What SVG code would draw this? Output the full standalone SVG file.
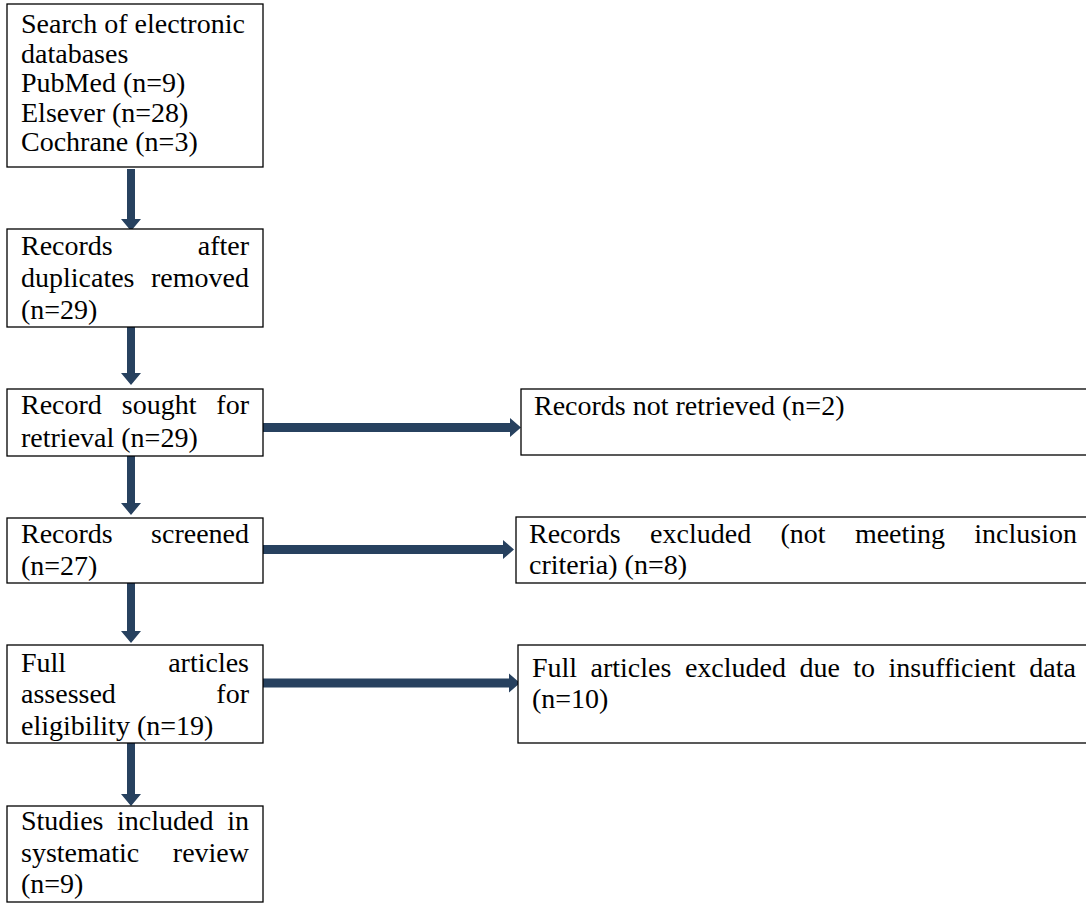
<svg xmlns="http://www.w3.org/2000/svg" width="1086" height="903" viewBox="0 0 1086 903">
<style>
.box{fill:#fff;stroke:#000;stroke-width:1.3}
.t{font-family:"Liberation Serif","Times New Roman",serif;font-size:28px;fill:#000}
.e{text-anchor:end}
.arr{fill:#27415f}
</style>
<rect width="1086" height="903" fill="#fff"/>
<g id="connectors">
<polygon class="arr" points="127,169 135,169 135,219 141,219 131,231 121,219 127,219"/>
<polygon class="arr" points="127,322 135,322 135,373 141,373 131,385 121,373 127,373"/>
<polygon class="arr" points="127,451 135,451 135,503 141,503 131,515 121,503 127,503"/>
<polygon class="arr" points="127,578 135,578 135,631 141,631 131,643 121,631 127,631"/>
<polygon class="arr" points="127,738 135,738 135,794 141,794 131,806 121,794 127,794"/>
<polygon class="arr" points="262,423 510,423 510,418 521,427.5 510,437 510,432 262,432"/>
<polygon class="arr" points="262,545 503,545 503,540 514,549.5 503,559 503,554 262,554"/>
<polygon class="arr" points="262,678.5 509,678.5 509,673.5 520,683 509,692.5 509,687.5 262,687.5"/>
</g>
<g id="n1">
<rect class="box" x="7" y="4" width="256" height="163"/>
<text class="t" x="21" y="33">Search of electronic</text>
<text class="t" x="21" y="62.5">databases</text>
<text class="t" x="21" y="92">PubMed (n=9)</text>
<text class="t" x="21" y="121.5">Elsever (n=28)</text>
<text class="t" x="21" y="151">Cochrane (n=3)</text>
</g>
<g id="n2">
<rect class="box" x="7" y="229" width="256" height="98"/>
<text class="t" x="21" y="255">Records</text>
<text class="t e" x="249" y="255">after</text>
<text class="t" x="21" y="287.3">duplicates</text>
<text class="t e" x="249" y="287.3">removed</text>
<text class="t" x="21" y="319.3">(n=29)</text>
</g>
<g id="n3">
<rect class="box" x="7" y="389" width="256" height="67"/>
<text class="t" x="21" y="414.3">Record</text>
<text class="t" x="121.8" y="414.3">sought</text>
<text class="t e" x="249" y="414.3">for</text>
<text class="t" x="21" y="446.7">retrieval (n=29)</text>
</g>
<g id="n4">
<rect class="box" x="7" y="518" width="256" height="65"/>
<text class="t" x="21" y="543.3">Records</text>
<text class="t e" x="249" y="543.3">screened</text>
<text class="t" x="21" y="575">(n=27)</text>
</g>
<g id="n5">
<rect class="box" x="7" y="645" width="256" height="98"/>
<text class="t" x="21" y="671.7">Full</text>
<text class="t e" x="249" y="671.7">articles</text>
<text class="t" x="21" y="703.3">assessed</text>
<text class="t e" x="249" y="703.3">for</text>
<text class="t" x="21" y="735">eligibility (n=19)</text>
</g>
<g id="n6">
<rect class="box" x="7" y="806" width="256" height="96"/>
<text class="t" x="21" y="830">Studies</text>
<text class="t" x="117.1" y="830">included</text>
<text class="t e" x="249" y="830">in</text>
<text class="t" x="21" y="861.7">systematic</text>
<text class="t e" x="249" y="861.7">review</text>
<text class="t" x="21" y="893.3">(n=9)</text>
</g>
<g id="r1">
<rect class="box" x="521" y="389" width="580" height="66"/>
<text class="t" x="534" y="415">Records not retrieved (n=2)</text>
</g>
<g id="r2">
<rect class="box" x="516" y="517" width="585" height="66"/>
<text class="t" x="529" y="543">Records</text>
<text class="t" x="650.1" y="543">excluded</text>
<text class="t" x="780.5" y="543">(not</text>
<text class="t" x="854.9" y="543">meeting</text>
<text class="t e" x="1077" y="543">inclusion</text>
<text class="t" x="529" y="574">criteria) (n=8)</text>
</g>
<g id="r3">
<rect class="box" x="518" y="645" width="583" height="98"/>
<text class="t" x="532" y="677">Full</text>
<text class="t" x="590.5" y="677">articles</text>
<text class="t" x="684.9" y="677">excluded</text>
<text class="t" x="799.4" y="677">due</text>
<text class="t" x="853.2" y="677">to</text>
<text class="t" x="888.5" y="677">insufficient</text>
<text class="t e" x="1076" y="677">data</text>
<text class="t" x="532" y="708">(n=10)</text>
</g>
</svg>
